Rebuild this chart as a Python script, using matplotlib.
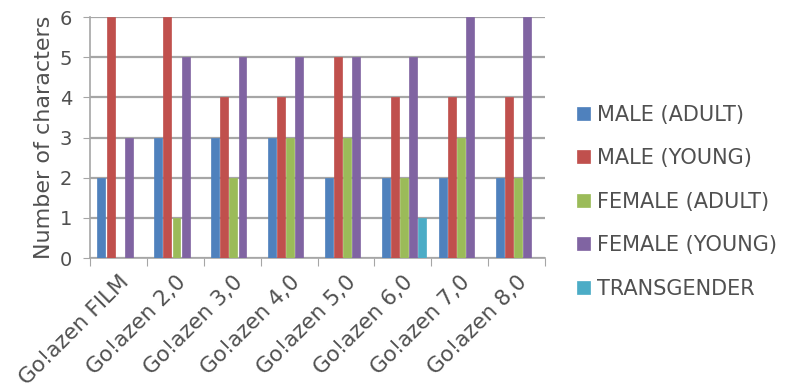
import matplotlib
matplotlib.use('Agg')
import matplotlib.pyplot as plt
import numpy as np

plt.rcParams['font.family'] = ['DejaVu Sans']

films = ['Go!azen FILM', 'Go!azen 2,0', 'Go!azen 3,0', 'Go!azen 4,0',
         'Go!azen 5,0', 'Go!azen 6,0', 'Go!azen 7,0', 'Go!azen 8,0']
series = ['MALE (ADULT)', 'MALE (YOUNG)', 'FEMALE (ADULT)', 'FEMALE (YOUNG)', 'TRANSGENDER']
male_adult = [2, 3, 3, 3, 2, 2, 2, 2]
male_young = [6, 6, 4, 4, 5, 4, 4, 4]
female_adult = [0, 1, 2, 3, 3, 2, 3, 2]
female_young = [3, 5, 5, 5, 5, 5, 6, 6]
transgender = [0, 0, 0, 0, 0, 1, 0, 0]
colors = ['#4F81BD', '#C0504D', '#9BBB59', '#8064A2', '#4BACC6']

values = [male_adult, male_young, female_adult, female_young, transgender]
txt = '#505050'
grey = '#a6a6a6'

fig = plt.figure(figsize=(7.9, 3.88), dpi=100)
ax = fig.add_axes([0.114, 0.335, 0.576, 0.621])

x = np.arange(len(films))
offsets = [0.2, 0.36, 0.52, 0.68, 0.84]
w = 0.14
for vals, off, c, name in zip(values, offsets, colors, series):
    ax.bar(x + off, vals, width=w, color=c, edgecolor=c, linewidth=0.5,
           label=name, zorder=3)

ax.set_xlim(0, len(films))
ax.set_ylim(0, 6)
ax.set_yticks(range(7))
ax.yaxis.grid(True, color=grey, linewidth=1.6, zorder=0)
ax.set_axisbelow(True)
for s in ['top', 'right']:
    ax.spines[s].set_visible(False)
ax.spines['left'].set_color(grey)
ax.spines['bottom'].set_color(grey)
ax.spines['left'].set_linewidth(1.2)
ax.spines['bottom'].set_linewidth(1.2)

ax.set_xticks(np.arange(len(films) + 1))
ax.set_xticklabels([])
ax.set_xticks(x + 0.5, minor=True)
ax.set_xticklabels(films, minor=True, rotation=45, ha='right',
                   rotation_mode='anchor', fontsize=15.5, color=txt)
ax.tick_params(axis='x', which='minor', length=0, pad=10)
ax.tick_params(axis='x', which='major', length=6, color=grey)
ax.tick_params(axis='y', length=5, color=grey, labelsize=14, labelcolor=txt, pad=8)

ax.set_ylabel('Number of characters', fontsize=16, color=txt, labelpad=4)

ax.legend(loc='center left', bbox_to_anchor=(1.029, 0.234), frameon=False,
          fontsize=15, labelcolor=txt, handlelength=0.6, handleheight=0.6,
          labelspacing=1.13, handletextpad=0.35)

fig.savefig('out.png', dpi=100)
